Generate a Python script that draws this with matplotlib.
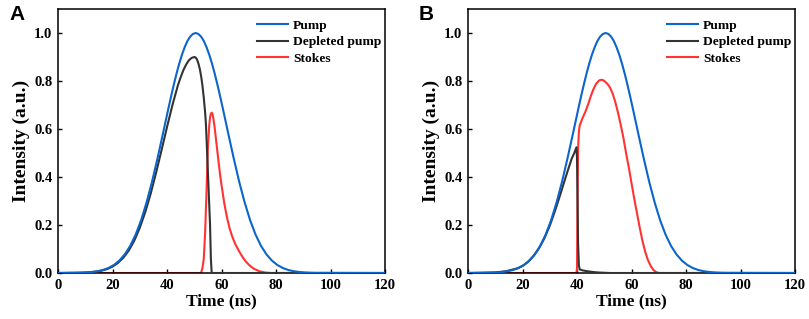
import matplotlib
matplotlib.use("Agg")
import matplotlib.pyplot as plt

plt.rcParams['font.family'] = ['Liberation Serif', 'DejaVu Serif']
plt.rcParams['font.weight'] = 'bold'

# ---- data ----
pump_t = [0, 6.5, 8.5, 10.5, 12.5, 14.5, 16.5, 18.5, 20.5, 22.5, 24.5, 26.5, 28.5, 30.5, 32.5, 34.5,
          36.5, 38.5, 40.5, 41.5, 42.5, 43.5, 44.5, 45.5, 46.5, 47.5, 48.5, 49.5, 50.5, 51.5, 52.5,
          53.5, 54.5, 55.5, 56.5, 57.5, 58.5, 59.5, 60.5, 62.5, 64.5,
          66.5, 68.5, 70.5, 72.5, 74.5, 76.5, 78.5, 80.5, 82.5, 84.5, 86.5, 88.5, 90.5, 92.5, 94.5, 120]
pump_v = [0, 0.0007, 0.0013, 0.0024, 0.0043, 0.0074, 0.0126, 0.0208, 0.0333, 0.0516, 0.0776, 0.113,
          0.160, 0.220, 0.294, 0.380, 0.477, 0.580, 0.685, 0.736, 0.785, 0.831, 0.873, 0.910, 0.941,
          0.967, 0.985, 0.996, 1.0, 0.996, 0.985,
          0.967, 0.941, 0.910, 0.873, 0.831, 0.785, 0.736, 0.685, 0.580, 0.477,
          0.380, 0.294, 0.220, 0.160, 0.113,
          0.0776, 0.0516, 0.0333, 0.0208, 0.0126, 0.0074, 0.0043, 0.0024, 0.0013, 0.0007, 0]

depA_t = [0, 10, 14, 16, 18, 20, 22, 24, 26, 28, 30, 32, 34, 36, 38, 40, 42, 44, 45, 46, 47, 48, 49,
          50, 50.5, 51, 51.5, 52, 52.5, 53, 53.5, 54, 54.3, 54.8, 55.3, 55.8, 56.1, 56.4, 120]
depA_v = [0, 0.0017, 0.0056, 0.0098, 0.0163, 0.0265, 0.042, 0.064, 0.094, 0.135, 0.188, 0.253, 0.330,
          0.418, 0.512, 0.608, 0.700, 0.782, 0.815, 0.845, 0.868, 0.886, 0.896,
          0.900, 0.898, 0.890, 0.874, 0.852, 0.822, 0.782, 0.730, 0.668, 0.617, 0.478, 0.339, 0.200,
          0.060, 0, 0]

stA_t = [0, 52.5, 53, 53.5, 54, 54.5, 55, 55.5, 55.8, 56.1, 56.4, 56.7, 57.0, 57.3, 57.6, 58, 58.5, 59,
         59.5, 60, 61, 62, 63, 64, 65, 66, 67, 68, 69, 70, 71, 72, 74, 76, 78, 120]
stA_v = [0, 0, 0.02, 0.06, 0.17, 0.34, 0.52, 0.615, 0.648, 0.664, 0.668, 0.662, 0.645, 0.622, 0.595,
         0.555, 0.505, 0.455, 0.408, 0.367, 0.292, 0.232, 0.185, 0.15, 0.122, 0.10, 0.08, 0.062, 0.047,
         0.035, 0.025, 0.017, 0.007, 0.002, 0, 0]

depB_t = [0, 10, 14, 18, 20, 22, 24, 26, 28, 30, 32, 34, 36, 38, 39, 39.8, 40.0, 40.2, 40.4, 40.7, 41,
          42, 44, 46, 48, 50, 52, 120]
depB_v = [0, 0.0024, 0.0074, 0.019, 0.029, 0.046, 0.070, 0.102, 0.144, 0.197, 0.261, 0.332, 0.405,
          0.475, 0.500, 0.524, 0.48, 0.30, 0.12, 0.03, 0.015, 0.011, 0.007, 0.004, 0.002, 0.001, 0, 0]

stB_t = [0, 39.8, 40.0, 40.2, 40.4, 40.7, 41, 42, 43, 44, 45, 46, 47, 48, 48.5, 49, 49.5, 50, 51, 52,
         53, 54, 55, 56, 57, 58, 59, 60, 61, 62, 63, 64, 65, 66, 67, 68, 69, 70, 120]
stB_v = [0, 0, 0.02, 0.30, 0.52, 0.59, 0.615, 0.645, 0.67, 0.70, 0.735, 0.765, 0.788, 0.801, 0.804,
         0.805, 0.804, 0.80, 0.79, 0.775, 0.75, 0.715, 0.67, 0.62, 0.565, 0.50, 0.44, 0.375, 0.31, 0.25,
         0.19, 0.135, 0.09, 0.055, 0.03, 0.013, 0.004, 0, 0]

labels = ['Pump', 'Depleted pump', 'Stokes']
xticks = [0, 20, 40, 60, 80, 100, 120]
yticks = [0.0, 0.2, 0.4, 0.6, 0.8, 1.0]
panel_letters = ['A', 'B']

c_pump = '#0a66cc'
c_dep = '#333333'
c_st = '#ff3333'

W, H = 809, 319
fig = plt.figure(figsize=(W / 100, H / 100), dpi=100)

axes_px = [(58, 385), (468, 795)]
top_px, bot_px = 9, 273

panels = [(depA_t, depA_v, stA_t, stA_v), (depB_t, depB_v, stB_t, stB_v)]

for i, ((x0, x1), (dt, dv, st, sv)) in enumerate(zip(axes_px, panels)):
    ax = fig.add_axes([x0 / W, 1 - bot_px / H, (x1 - x0) / W, (bot_px - top_px) / H])
    ax.plot(st, sv, color=c_st, lw=1.5, zorder=2, label=labels[2], solid_joinstyle='round')
    ax.plot(dt, dv, color=c_dep, lw=1.5, zorder=3, label=labels[1], solid_joinstyle='round')
    ax.plot(pump_t, pump_v, color=c_pump, lw=1.5, zorder=4, label=labels[0], solid_joinstyle='round')
    ax.set_xlim(0, 120)
    ax.set_ylim(0, 1.1)
    ax.set_xticks(xticks)
    ax.set_yticks(yticks)
    ax.set_xticklabels([str(v) for v in xticks])
    ax.set_yticklabels(['%.1f' % v for v in yticks])
    ax.tick_params(direction='in', length=3, width=1, labelsize=10.5, pad=4)
    for s in ax.spines.values():
        s.set_linewidth(1.1)
    ax.set_xlabel('Time (ns)', fontsize=12.5, fontweight='bold', labelpad=1)
    ax.set_ylabel('Intensity (a.u.)', fontsize=14, fontweight='bold', labelpad=3)
    h, l = ax.get_legend_handles_labels()
    order = [2, 1, 0]
    ax.legend([h[k] for k in order], [l[k] for k in order], loc='upper left',
              bbox_to_anchor=(0.61, 0.96), frameon=False, fontsize=9.7,
              handlelength=2.3, handletextpad=0.35, labelspacing=0.3, borderpad=0,
              borderaxespad=0)
    fig.text((x0 - 49) / W, 1 - 5 / H, panel_letters[i], fontsize=15, fontweight='bold',
             family='Liberation Sans', va='top', ha='left')

fig.savefig('out.png', dpi=100)
